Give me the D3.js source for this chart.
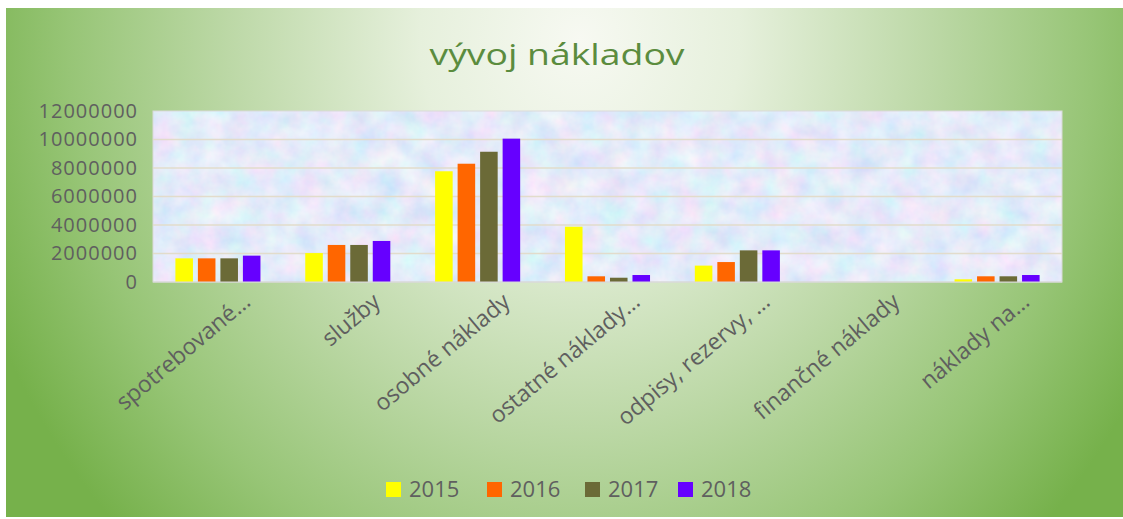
<!DOCTYPE html>
<html>
<head>
<meta charset="utf-8">
<script src="https://cdn.jsdelivr.net/npm/d3@7"></script>
<style>
  body { margin: 0; background: #fff; }
  text { font-family: "Open Sans", sans-serif; }
</style>
</head>
<body>
<svg id="chart" width="1123" height="519"></svg>
<script>
// data
let categories = ["spotrebované…", "služby", "osobné náklady", "ostatné náklady…", "odpisy, rezervy, …", "finančné náklady", "náklady na…"];
let years = ["2015", "2016", "2017", "2018"];
let v2015 = [1660000, 2030000, 7770000, 3880000, 1150000, 0, 190000];
let v2016 = [1660000, 2600000, 8300000, 400000, 1400000, 0, 400000];
let v2017 = [1660000, 2600000, 9140000, 300000, 2220000, 0, 400000];
let v2018 = [1850000, 2880000, 10060000, 490000, 2220000, 0, 490000];
let yTicks = [0, 2000000, 4000000, 6000000, 8000000, 10000000, 12000000];
let colors = ["#ffff00", "#ff6600", "#6b6a37", "#6600ff"];

let series = [v2015, v2016, v2017, v2018];
let svg = d3.select('#chart');
let defs = svg.append('defs');

// chart area background: radial green gradient, light near the title
let bg = defs.append('radialGradient')
    .attr('id', 'bgGrad')
    .attr('gradientUnits', 'userSpaceOnUse')
    .attr('cx', 580).attr('cy', 40).attr('r', 640)
    .attr('gradientTransform', 'translate(580,40) scale(1,1.1) translate(-580,-40)');
[[0, '#f7f9f2'], [0.25, '#e6f0dc'], [0.55, '#bcd8a6'], [0.8, '#97c576'], [1, '#76b14b']].forEach(s => {
    bg.append('stop').attr('offset', s[0]).attr('stop-color', s[1]);
});

// plot area texture (blue / lavender / pink mottling)
let tex = defs.append('filter').attr('id', 'tex')
    .attr('x', 0).attr('y', 0).attr('width', 1).attr('height', 1);
tex.append('feTurbulence')
    .attr('type', 'fractalNoise')
    .attr('baseFrequency', 0.04)
    .attr('numOctaves', 4)
    .attr('seed', 3);
tex.append('feColorMatrix')
    .attr('type', 'matrix')
    .attr('values', '0.45 0 0 0 0.55  0 0.3 0 0 0.68  0 0 0.1 0 0.9  0 0 0 0 1');

svg.append('rect')
    .attr('x', 6).attr('y', 8)
    .attr('width', 1117).attr('height', 509)
    .attr('fill', 'url(#bgGrad)');

let plot = {left: 153, right: 1062, top: 111, bottom: 282};

let x0 = d3.scaleBand()
    .domain(categories)
    .range([plot.left, plot.right])
    .paddingInner(0.345)
    .paddingOuter(0.1725);
let x1 = d3.scaleBand()
    .domain(years)
    .range([0, x0.bandwidth()])
    .paddingInner(0.22);
let y = d3.scaleLinear()
    .domain([0, 12000000])
    .range([plot.bottom, plot.top]);

// plot area
svg.append('rect')
    .attr('x', plot.left).attr('y', plot.top)
    .attr('width', plot.right - plot.left).attr('height', plot.bottom - plot.top)
    .attr('filter', 'url(#tex)');
svg.append('rect')
    .attr('x', plot.left).attr('y', plot.top)
    .attr('width', plot.right - plot.left).attr('height', plot.bottom - plot.top)
    .attr('fill', 'none')
    .attr('stroke', '#d9d9d9');

// gridlines
svg.append('g')
    .selectAll('line')
    .data(yTicks.filter(d => d > 0 && d < 12000000))
    .join('line')
    .attr('x1', plot.left).attr('x2', plot.right)
    .attr('y1', d => y(d)).attr('y2', d => y(d))
    .attr('stroke', '#e2dccb')
    .attr('stroke-width', 1.5);

// y axis labels
let yAxis = svg.append('g')
    .attr('transform', `translate(${plot.left - 15},0)`)
    .call(d3.axisLeft(y).tickValues(yTicks).tickFormat(d3.format('d')).tickSize(0).tickPadding(0));
yAxis.select('.domain').remove();
yAxis.selectAll('text')
    .attr('fill', '#5f5f5f')
    .style('font-size', '20px')
    .style('letter-spacing', '1px')
    .style('font-family', '"Open Sans", sans-serif');

// bars
svg.append('g')
    .selectAll('g')
    .data(categories)
    .join('g')
    .attr('transform', c => `translate(${x0(c)},0)`)
    .selectAll('rect')
    .data((c, i) => years.map((yr, j) => ({yr: yr, v: series[j][i], c: colors[j]})))
    .join('rect')
    .attr('x', d => x1(d.yr))
    .attr('width', x1.bandwidth())
    .attr('y', d => y(d.v))
    .attr('height', d => plot.bottom - y(d.v))
    .attr('fill', d => d.c);

// axis line
svg.append('line')
    .attr('x1', plot.left).attr('x2', plot.right)
    .attr('y1', plot.bottom).attr('y2', plot.bottom)
    .attr('stroke', '#d9d9d9');

// category labels, rotated
svg.append('g')
    .selectAll('text')
    .data(categories)
    .join('text')
    .attr('transform', c => `translate(${x0(c) + x0.bandwidth() / 2 + 34},${plot.bottom + 22}) rotate(-40)`)
    .attr('text-anchor', 'end')
    .attr('fill', '#5f5f5f')
    .style('font-size', '23px')
    .text(c => c);

// title
svg.append('text')
    .attr('x', 557).attr('y', 65)
    .attr('text-anchor', 'middle')
    .attr('fill', '#5b8c3e')
    .attr('textLength', 255)
    .attr('lengthAdjust', 'spacingAndGlyphs')
    .style('font-size', '30px')
    .text('vývoj nákladov');

// legend
let legendX = [386, 487, 585, 678];
let legend = svg.append('g')
    .selectAll('g')
    .data(years)
    .join('g')
    .attr('transform', (d, i) => `translate(${legendX[i]},482)`);
legend.append('rect')
    .attr('width', 15).attr('height', 15)
    .attr('fill', (d, i) => colors[i]);
legend.append('text')
    .attr('x', 23).attr('y', 15)
    .attr('fill', '#5f5f5f')
    .style('font-size', '22px')
    .text(d => d);
</script>
</body>
</html>
